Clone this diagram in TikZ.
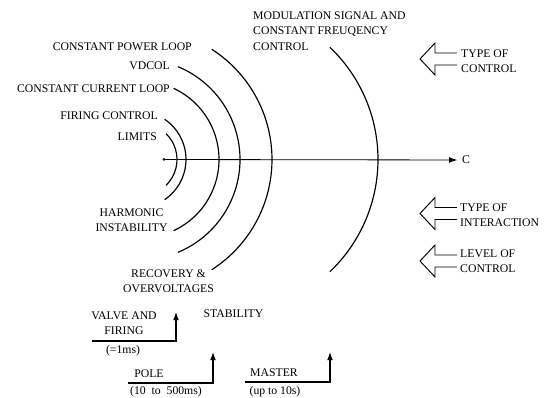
\documentclass[tikz,border=0pt]{standalone}
\usepackage{fontspec}
\setmainfont{Liberation Serif}
\usepackage{xcolor}
\definecolor{Black}{RGB}{0,0,0}
\usetikzlibrary{arrows.meta}
\newcommand{\hollowArrow}[1]{%
	\draw[draw=Black, line width=0.8pt, line join=miter] (#1) ++(37,-6) -- ++(-22,0) -- ++(0,-10) -- ++(-15,16) -- ++(15,16) -- ++(0,-10) -- ++(22,0);}

\begin{document}
\begin{tikzpicture}[x=0.03cm, y=-0.03cm,
		label/.style={align=center, color=Black, inner sep=0pt, font=\fontsize{10}{13}\selectfont},
		ring/.style={draw=Black, line width=1pt},
		flow/.style={-{Latex[length=7pt,width=5pt]}, draw=Black, line width=0.9pt}]
		
		% Frame
		\useasboundingbox (0,0) rectangle (550,398);
		
		% Axis
		\coordinate (origin) at (164,159.5);
		\node[label, anchor=west] (c) at (462,160) {C};
		\fill[Black] (origin) circle (1.5);
		\draw[flow, line width=0.7pt, shorten >=4pt] (origin) -- (c.west);
		
		% Arcs
		\foreach \cx/\rad/\ang in {141/36/46, 137.5/48.5/56, 140.5/78.5/65, 139.5/100.5/67.5, 141/131/57.3, 223/155/46.4}
			\draw[ring] (\cx,159.5) ++(-\ang:\rad) arc (-\ang:\ang:\rad);
		
		% Names
		\node[label, align=left, anchor=west] (modulation) at (253,31) {MODULATION SIGNAL AND\\CONSTANT FREUQENCY\\CONTROL};
		\node[label, anchor=east] (power) at (192,47) {CONSTANT POWER LOOP};
		\node[label, anchor=east] (vdcol) at (170,66) {VDCOL};
		\node[label, anchor=east] (current) at (170,89) {CONSTANT CURRENT LOOP};
		\node[label, anchor=east] (firing) at (158,116) {FIRING CONTROL};
		\node[label, anchor=east] (limits) at (157,137) {LIMITS};
		\node[label] (harmonic) at (131.5,220) {HARMONIC\\INSTABILITY};
		\node[label] (recovery) at (168.5,281.5) {RECOVERY \&\\OVERVOLTAGES};
		
		% Types
		\hollowArrow{420,59}
		\node[label, align=left, anchor=west] (controlType) at (461,61) {TYPE OF\\CONTROL};
		\hollowArrow{420,213.5}
		\node[label, align=left, anchor=west] (interactionType) at (460,215) {TYPE OF\\INTERACTION};
		\hollowArrow{420,261}
		\node[label, align=left, anchor=west] (controlLevel) at (460,261) {LEVEL OF\\CONTROL};
		
		% Levels
		\node[label] (valve) at (124,323.5) {VALVE AND\\FIRING};
		\node[label] (valveTime) at (123,351) {(=1ms)};
		\coordinate (valveStart) at (92,341);
		\coordinate (valveCorner) at (176,341);
		\coordinate (valveEnd) at (176,312);
		\draw[flow] (valveStart) -- (valveCorner) -- (valveEnd);
		
		\node[label] (stability) at (233.5,314) {STABILITY};
		
		\node[label] (pole) at (149,374) {POLE};
		\node[label] (poleTime) at (166,392) {(10\ \ to\ \ 500ms)};
		\coordinate (poleStart) at (128,383);
		\coordinate (poleCorner) at (213,383);
		\coordinate (poleEnd) at (213,352);
		\draw[flow] (poleStart) -- (poleCorner) -- (poleEnd);
		
		\node[label] (master) at (274,373) {MASTER};
		\node[label] (masterTime) at (275,392) {(up to 10s)};
		\coordinate (masterStart) at (245,382);
		\coordinate (masterCorner) at (330,382);
		\coordinate (masterEnd) at (330,352);
		\draw[flow] (masterStart) -- (masterCorner) -- (masterEnd);
		
	\end{tikzpicture}
\end{document}
